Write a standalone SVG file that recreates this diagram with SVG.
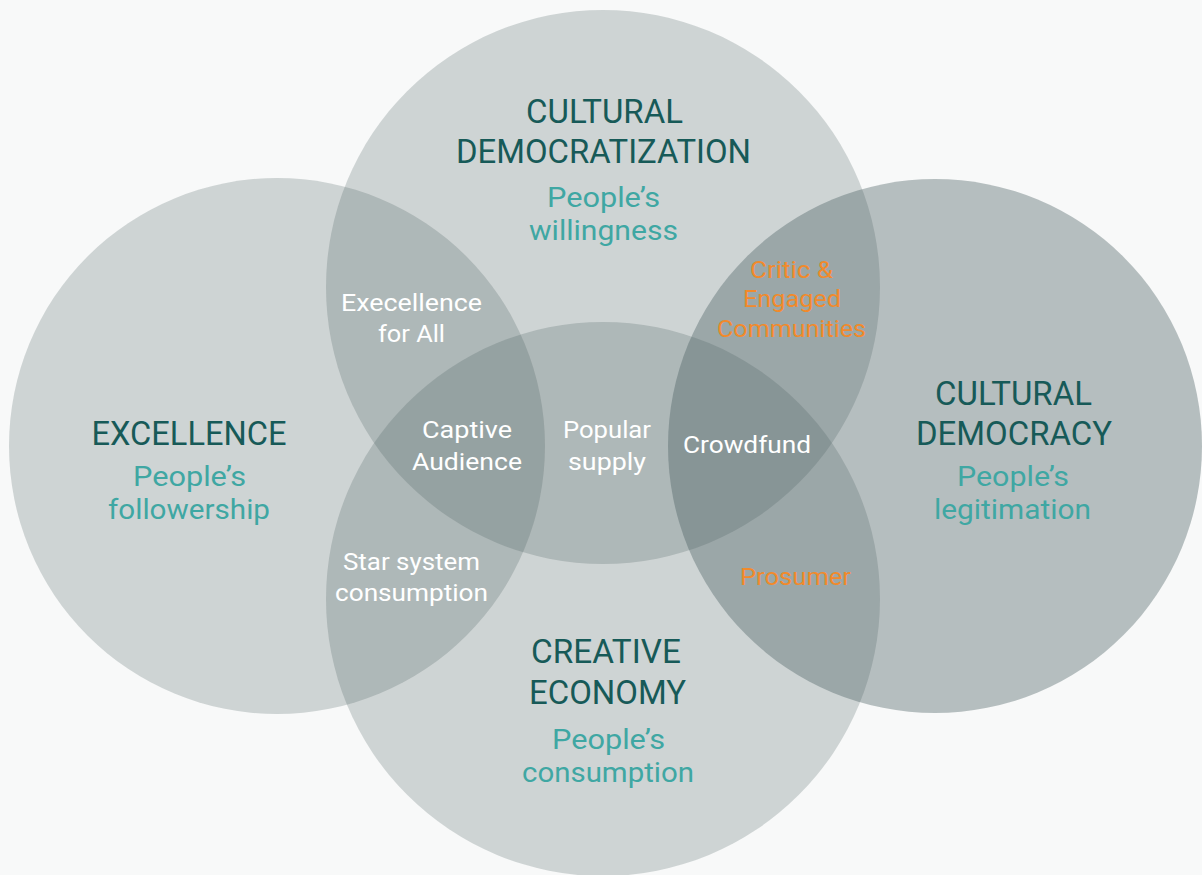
<svg xmlns="http://www.w3.org/2000/svg" width="1202" height="875" viewBox="0 0 1202 875">
<style>
.c{fill:#45595c;fill-opacity:0.23}
.cr{fill:#45595c;fill-opacity:0.37}
text{font-family:Roboto,"Liberation Sans",sans-serif;text-anchor:middle}
.h{fill:#175a58;font-size:34px}
.s{fill:#3fa7a3;font-size:27px}
.w{fill:#ffffff;font-size:23.5px}
.o{fill:#f28a2b;font-size:23.5px}
</style>
<rect width="1202" height="875" fill="#f8f9f9"/>
<g id="shapes">
<circle id="c-excellence" class="c" cx="277" cy="446" r="268"/>
<circle id="c-democratization" class="c" cx="603" cy="287" r="277"/>
<circle id="c-creative" class="c" cx="603" cy="599" r="277"/>
<circle id="c-democracy" class="cr" cx="935" cy="446" r="267"/>
</g>
<g id="connectors"></g>
<g id="node-democratization">
<text class="h" x="604.5" y="123" textLength="157" lengthAdjust="spacingAndGlyphs">CULTURAL</text>
<text class="h" x="603.5" y="163" textLength="295" lengthAdjust="spacingAndGlyphs">DEMOCRATIZATION</text>
<text class="s" x="603.5" y="207" textLength="113" lengthAdjust="spacingAndGlyphs">People’s</text>
<text class="s" x="603.5" y="240" textLength="149" lengthAdjust="spacingAndGlyphs">willingness</text>
</g>
<g id="node-excellence">
<text class="h" x="189" y="445" textLength="195" lengthAdjust="spacingAndGlyphs">EXCELLENCE</text>
<text class="s" x="189.5" y="486" textLength="113" lengthAdjust="spacingAndGlyphs">People’s</text>
<text class="s" x="189" y="519" textLength="162" lengthAdjust="spacingAndGlyphs">followership</text>
</g>
<g id="node-democracy">
<text class="h" x="1013.5" y="405" textLength="157" lengthAdjust="spacingAndGlyphs">CULTURAL</text>
<text class="h" x="1014" y="445" textLength="196" lengthAdjust="spacingAndGlyphs">DEMOCRACY</text>
<text class="s" x="1013" y="486" textLength="112" lengthAdjust="spacingAndGlyphs">People’s</text>
<text class="s" x="1012.5" y="519" textLength="157" lengthAdjust="spacingAndGlyphs">legitimation</text>
</g>
<g id="node-creative">
<text class="h" x="606" y="663" textLength="150" lengthAdjust="spacingAndGlyphs">CREATIVE</text>
<text class="h" x="607.5" y="704" textLength="157" lengthAdjust="spacingAndGlyphs">ECONOMY</text>
<text class="s" x="608.5" y="749" textLength="113" lengthAdjust="spacingAndGlyphs">People’s</text>
<text class="s" x="608" y="782" textLength="172" lengthAdjust="spacingAndGlyphs">consumption</text>
</g>
<g id="node-excellence-for-all">
<text class="w" x="411.5" y="311" textLength="141" lengthAdjust="spacingAndGlyphs">Execellence</text>
<text class="w" x="411.5" y="342" textLength="67" lengthAdjust="spacingAndGlyphs">for All</text>
</g>
<g id="node-critic">
<text class="o" x="791.5" y="278" textLength="83" lengthAdjust="spacingAndGlyphs">Critic &amp;</text>
<text class="o" x="792" y="307" textLength="98" lengthAdjust="spacingAndGlyphs">Engaged</text>
<text class="o" x="791.5" y="337" textLength="149" lengthAdjust="spacingAndGlyphs">Communities</text>
</g>
<g id="node-captive">
<text class="w" x="467" y="438" textLength="90" lengthAdjust="spacingAndGlyphs">Captive</text>
<text class="w" x="467" y="470" textLength="110" lengthAdjust="spacingAndGlyphs">Audience</text>
</g>
<g id="node-popular">
<text class="w" x="607" y="438" textLength="88" lengthAdjust="spacingAndGlyphs">Popular</text>
<text class="w" x="607" y="470" textLength="78" lengthAdjust="spacingAndGlyphs">supply</text>
</g>
<g id="node-crowdfund">
<text class="w" x="747" y="453" textLength="128" lengthAdjust="spacingAndGlyphs">Crowdfund</text>
</g>
<g id="node-star">
<text class="w" x="411.5" y="570" textLength="137" lengthAdjust="spacingAndGlyphs">Star system</text>
<text class="w" x="411.5" y="601" textLength="153" lengthAdjust="spacingAndGlyphs">consumption</text>
</g>
<g id="node-prosumer">
<text class="o" x="795.5" y="585" textLength="111" lengthAdjust="spacingAndGlyphs">Prosumer</text>
</g>
</svg>
